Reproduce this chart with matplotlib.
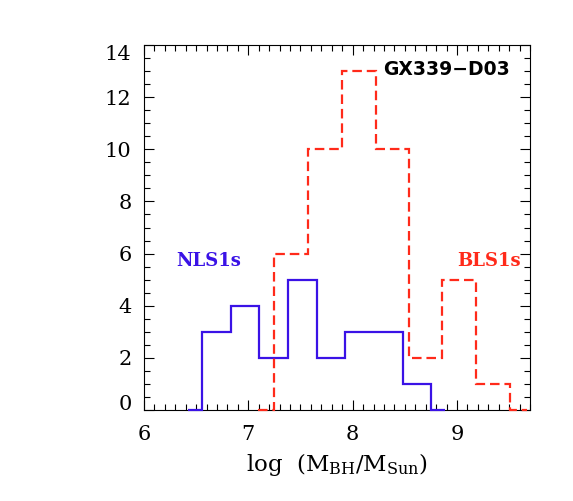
import numpy as np
import matplotlib
matplotlib.use("Agg")
import matplotlib.pyplot as plt
from matplotlib.ticker import MultipleLocator
from matplotlib.transforms import ScaledTranslation

# ---- data ----
nls1_centers = [6.42, 6.69, 6.97, 7.24, 7.52, 7.79, 8.07, 8.34, 8.62, 8.89]
nls1_counts = [0, 3, 4, 2, 5, 2, 3, 3, 1, 0]
bls1_centers = [7.09, 7.41, 7.73, 8.06, 8.38, 8.70, 9.02, 9.35, 9.67]
bls1_counts = [0, 6, 10, 13, 10, 2, 5, 1, 0]
x_ticks = [6, 7, 8, 9]
y_ticks = [0, 2, 4, 6, 8, 10, 12, 14]

BLUE = '#3a12e6'
RED = '#ff2a1a'

plt.rcParams['mathtext.fontset'] = 'dejavuserif'
plt.rcParams['font.family'] = ['DejaVu Serif']


def psym10_edges(c):
    c = np.asarray(c, float)
    mids = (c[:-1] + c[1:]) / 2
    return np.concatenate([[c[0]], mids, [c[-1]]])


fig = plt.figure(figsize=(5.73, 5.01), dpi=100)
W, H = 573, 501
ax = fig.add_axes([144 / W, (H - 410) / H, (530 - 144) / W, (410 - 45) / H])

ax.stairs(nls1_counts, psym10_edges(nls1_centers), baseline=None,
          color=BLUE, lw=1.6, clip_on=False, zorder=3)
ax.stairs(bls1_counts, psym10_edges(bls1_centers), baseline=None,
          color=RED, lw=1.6, linestyle=(0, (4.3, 2.2)), clip_on=False, zorder=3)

ax.set_xlim(6, 9.7)
ax.set_ylim(0, 14)
ax.set_xticks(x_ticks)
ax.set_yticks(y_ticks)
ax.xaxis.set_minor_locator(MultipleLocator(0.1))
ax.yaxis.set_minor_locator(MultipleLocator(0.5))
ax.tick_params(which='both', direction='in', top=True, right=True,
               width=0.8, labelsize=15)
ax.tick_params(which='major', length=7)
ax.tick_params(which='minor', length=4)
ax.tick_params(axis='x', pad=11)
ax.tick_params(axis='y', pad=9)
for s in ax.spines.values():
    s.set_linewidth(0.8)

ax.set_xlabel(r'log  (M$_{\rm BH}$/M$_{\rm Sun}$)', fontsize=16.5, labelpad=5)

# IDL-like shift of the end labels inside the axis range
yt = ax.yaxis.get_major_ticks()
lab0 = yt[0].label1
lab0.set_transform(lab0.get_transform() + ScaledTranslation(0, 7 / 100, fig.dpi_scale_trans))
labN = yt[-1].label1
labN.set_transform(labN.get_transform() + ScaledTranslation(0, -8 / 100, fig.dpi_scale_trans))

ax.text(0.619, 0.932, 'GX339\u2212D03', transform=ax.transAxes, fontsize=13.5,
        fontweight='bold', family='DejaVu Sans', color='black', va='center', ha='left')
ax.text(0.083, 0.408, 'NLS1s', transform=ax.transAxes, fontsize=13,
        fontweight='bold', color=BLUE, va='center', ha='left')
ax.text(0.812, 0.408, 'BLS1s', transform=ax.transAxes, fontsize=13,
        fontweight='bold', color=RED, va='center', ha='left')

fig.savefig('out.png', dpi=100)
